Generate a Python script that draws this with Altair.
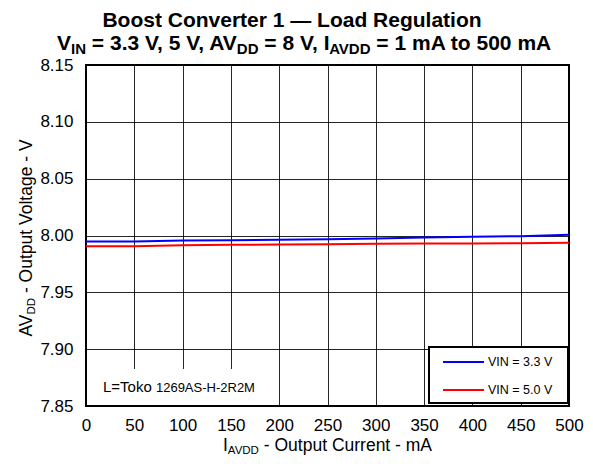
import altair as alt
import pandas as pd

# ---------------- data ----------------
current = [0, 50, 100, 150, 200, 250, 300, 350, 400, 450, 500]
vout_33 = [7.9947, 7.9948, 7.9956, 7.9959, 7.9962, 7.9967, 7.9974, 7.9982, 7.9989, 7.9994, 8.0006]
vout_50 = [7.9906, 7.9906, 7.9914, 7.9918, 7.9921, 7.9923, 7.9927, 7.9930, 7.9930, 7.9932, 7.9936]
series = ["VIN = 3.3 V", "VIN = 5.0 V"]
colors = ["#0000FF", "#FF0000"]
x_ticks = [0, 50, 100, 150, 200, 250, 300, 350, 400, 450, 500]
y_ticks = [7.85, 7.90, 7.95, 8.00, 8.05, 8.10, 8.15]
note_main = "L=Toko "
note_part = "1269AS-H-2R2M"

FONT = "Liberation Sans"
W, H = 483, 341

df = pd.DataFrame({
    "current": current * 2,
    "vout": vout_33 + vout_50,
    "series": [series[0]] * len(current) + [series[1]] * len(current),
})

# Arial-compatible advance widths (per 1000 em)
REG = {' ': 278, '-': 333, '.': 278, ',': 278, '=': 584, 'A': 667, 'B': 667, 'C': 722,
       'D': 722, 'H': 722, 'I': 278, 'K': 667, 'L': 556, 'M': 833, 'N': 722, 'O': 778,
       'R': 722, 'S': 667, 'T': 611, 'V': 667, 'a': 556, 'c': 500, 'e': 556, 'g': 556,
       'k': 500, 'l': 222, 'm': 833, 'n': 556, 'o': 556, 'p': 556, 'r': 333, 't': 278,
       'u': 556, 'v': 500, 'i': 222, 's': 500, 'd': 556}
BOLD = {' ': 278, '-': 333, '.': 278, ',': 278, '=': 584, '\u2014': 1000, 'A': 722,
        'B': 722, 'C': 722, 'D': 722, 'I': 278, 'L': 611, 'N': 722, 'R': 722, 'V': 667,
        'a': 556, 'd': 611, 'e': 556, 'g': 611, 'i': 278, 'l': 278, 'm': 889, 'n': 611,
        'o': 611, 'r': 389, 's': 556, 't': 333, 'u': 611, 'v': 556}
KERN = {'AV': -74, 'V,': -111, 'V.': -111, 'Vo': -55, 'To': -111}


def tw(s, size, bold=False):
    t = BOLD if bold else REG
    total = sum(t.get(c, 556) for c in s)
    total += sum(KERN.get(s[i:i + 2], 0) for i in range(len(s) - 1))
    return total * size / 1000.0


def txt(s, x, y, size, bold=False, angle=0, align="left", baseline="alphabetic", color="black"):
    return alt.Chart(pd.DataFrame({"t": [s]})).mark_text(
        font=FONT, fontSize=size, fontWeight="bold" if bold else "normal",
        angle=angle, align=align, baseline=baseline, color=color
    ).encode(text="t:N", x=alt.value(x), y=alt.value(y))


def run(segs, pos, along, size_main, size_sub, sub_shift, bold=False, angle=0, direction=1):
    """Lay out a run of text segments; leading spaces become an offset."""
    out = []
    for s, sub in segs:
        size = size_sub if sub else size_main
        lead = len(s) - len(s.lstrip(" "))
        along_here = along + direction * tw(" " * lead, size, bold)
        core = s.strip(" ")
        shift = sub_shift if sub else 0
        if angle == 0:
            out.append(txt(core, along_here, pos + shift, size, bold=bold))
        else:
            out.append(txt(core, pos + shift, along_here, size, bold=bold, angle=angle))
        along += direction * tw(s, size, bold)
    return out


def run_width(segs, size_main, size_sub, bold=False):
    return sum(tw(s, size_sub if sub else size_main, bold) for s, sub in segs)


layers = []

# annotation box (covers gridlines)
layers.append(
    alt.Chart(pd.DataFrame({"a": [0]})).mark_rect(color="white").encode(
        x=alt.value(1), x2=alt.value(189), y=alt.value(304), y2=alt.value(340)
    )
)

# data lines
lines = alt.Chart(df).mark_line(strokeWidth=2).encode(
    x=alt.X("current:Q", scale=alt.Scale(domain=[0, 500], nice=False, zero=False),
            axis=alt.Axis(values=x_ticks, labelPadding=11, labelFlush=False, title=None)),
    y=alt.Y("vout:Q", scale=alt.Scale(domain=[7.85, 8.15], nice=False, zero=False),
            axis=alt.Axis(values=y_ticks, format=".2f", labelPadding=13, labelFlush=False, title=None)),
    color=alt.Color("series:N", scale=alt.Scale(domain=series, range=colors), legend=None),
)
layers.append(lines)

# annotation text
layers.append(txt(note_main.strip(), 17, 327, 15))
layers.append(txt(note_part, 17 + tw(note_main, 15), 327, 13))

# legend box
layers.append(
    alt.Chart(pd.DataFrame({"a": [0]})).mark_rect(fill="white", stroke="black", strokeWidth=2).encode(
        x=alt.value(343), x2=alt.value(482), y=alt.value(282), y2=alt.value(338)
    )
)
for i, (s, c) in enumerate(zip(series, colors)):
    yy = 297 + 28 * i
    layers.append(
        alt.Chart(pd.DataFrame({"a": [0]})).mark_rule(color=c, strokeWidth=2).encode(
            x=alt.value(357), x2=alt.value(398), y=alt.value(yy)
        )
    )
    layers.append(txt(s, 402, yy, 12.5, baseline="middle"))

# title line 1
layers.append(txt("Boost Converter 1 \u2014 Load Regulation", 206, -38, 21, bold=True, align="center"))

# title line 2 with subscripts
MAIN, SUB = 21, 15
segs2 = [("V", False), ("IN", True), (" = 3.3 V, 5 V, AV", False), ("DD", True),
         (" = 8 V, I", False), ("AVDD", True), (" = 1 mA to 500 mA", False)]
x0 = 466 - run_width(segs2, MAIN, SUB, True)
layers += run(segs2, -15, x0, MAIN, SUB, 4, bold=True)

# x axis title
AX, AXS = 17.5, 11.5
segsx = [("I", False), ("AVDD", True), (" - Output Current - mA", False)]
x0 = W / 2 - run_width(segsx, AX, AXS) / 2
layers += run(segsx, 386, x0, AX, AXS, 3)

# y axis title (rotated, reading bottom to top)
segsy = [("AV", False), ("DD", True), (" - Output Voltage - V", False)]
y0 = 173 + run_width(segsy, AX, AXS) / 2
layers += run(segsy, -54, y0, AX, AXS, 3, angle=270, direction=-1)

chart = alt.layer(*layers).properties(
    width=W, height=H,
    padding={"left": 78, "top": 57, "right": 15, "bottom": 50},
    autosize=alt.AutoSizeParams(type="none"),
    background="white",
).configure_view(
    stroke="black", strokeWidth=2
).configure_axis(
    domain=False, ticks=False, grid=True, gridColor="#000000", gridOpacity=0.85,
    gridWidth=1, labelFont=FONT, labelFontSize=17, labelColor="black",
)

chart.save("out.html", embed_options={"renderer": "svg", "actions": False})
